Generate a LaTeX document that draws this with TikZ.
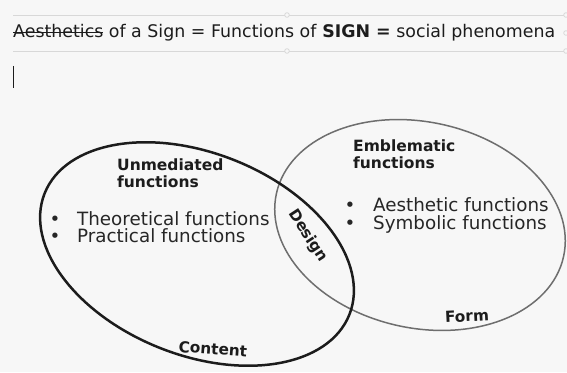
\documentclass[tikz,border=0pt]{standalone}
\usepackage{fontspec}
\setmainfont{DejaVu Sans}
\definecolor{bgcol}{HTML}{F7F7F7}
\definecolor{boxcol}{HTML}{D8D8D8}
\definecolor{formcol}{HTML}{6E6E6E}
\definecolor{inkcol}{HTML}{1C1C1C}
\definecolor{bodycol}{HTML}{262626}
\newcommand\mystrike[1]{\setbox0\hbox{#1}\rlap{\rule[0.3em]{\wd0}{0.07em}}\box0\relax}
\begin{document}
\begin{tikzpicture}[x=1pt,y=1pt,
  titletext/.style={font=\fontsize{17.4}{18}\selectfont, text=inkcol, inner sep=0, anchor=base west},
  bodytext/.style={font=\fontsize{18.3}{18}\selectfont, text=bodycol, inner sep=0, anchor=base west},
  bulletmark/.style={font=\fontsize{18.3}{18}\selectfont, text=bodycol, inner sep=0, anchor=base},
  headtext/.style={font=\fontsize{15.5}{17}\selectfont\bfseries, text=inkcol, inner sep=0, anchor=base west},
  ringlabel/.style={font=\fontsize{15.3}{17}\selectfont\bfseries, text=inkcol, inner sep=0},
  boxline/.style={draw=boxcol, line width=0.8pt},
  contentring/.style={draw=inkcol, line width=2.5pt},
  formring/.style={draw=formcol, line width=1.5pt}]
\fill[bgcol] (0,0) rectangle (567,372);
\useasboundingbox (0,0) rectangle (567,372);
% title box
\coordinate (tl) at (13,357);
\coordinate (tr) at (567,357);
\coordinate (bl) at (13,321);
\coordinate (br) at (567,321);
\draw[boxline] (tl) -- (tr);
\draw[boxline] (bl) -- (br);
\draw[boxline, fill=bgcol] (287,357) circle (2.3);
\draw[boxline, fill=bgcol] (287,321) circle (2.3);
\draw[boxline, fill=bgcol] (566,357) circle (2.3);
\draw[boxline, fill=bgcol] (566,339) circle (2.3);
\draw[boxline, fill=bgcol] (566,321) circle (2.3);
\node[titletext] (title) at (13,334) {\mystrike{Aesthetics} of a Sign = Functions of \textbf{SIGN =} social phenomena};
% cursor
\coordinate (c1) at (13,306);
\coordinate (c2) at (13,284);
\draw[inkcol, line width=1pt] (c1) -- (c2);
% rings
\draw[formring] (420,147) ellipse [x radius=147, y radius=103, rotate=-12.4];
\draw[contentring] (197,118) ellipse [x radius=164, y radius=101, rotate=-21.7];
% left texts
\node[headtext] (u1) at (117,201) {Unmediated};
\node[headtext] (u2) at (117,184) {functions};
\node[bulletmark] (lb1) at (55,146) {•};
\node[bodytext] (t1) at (77,146) {Theoretical functions};
\node[bulletmark] (lb2) at (55,129) {•};
\node[bodytext] (t2) at (77,129) {Practical functions};
% right texts
\node[headtext] (e1) at (353,220) {Emblematic};
\node[headtext] (e2) at (353,203) {functions};
\node[bulletmark] (rb1) at (350,160) {•};
\node[bodytext] (a1) at (373,160) {Aesthetic functions};
\node[bulletmark] (rb2) at (350,142) {•};
\node[bodytext] (a2) at (373,142) {Symbolic functions};
% ring labels
\node[ringlabel, rotate=-57] (design) at (308,136) {Design};
\node[ringlabel, rotate=-4] (content) at (213,23) {Content};
\node[ringlabel, rotate=3] (form) at (467,56) {Form};
\end{tikzpicture}
\end{document}
